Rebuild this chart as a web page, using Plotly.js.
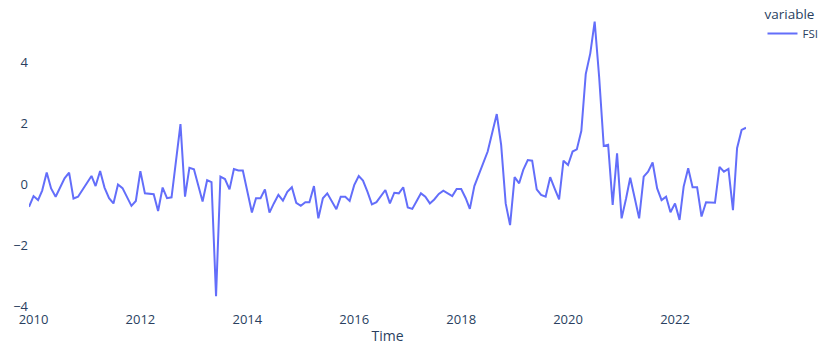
<!DOCTYPE html>
<html>
<head>
<meta charset="utf-8">
<script src="https://cdn.plot.ly/plotly-3.0.1.min.js"></script>
<style>html,body{margin:0;padding:0;background:#fff;}#chart{width:818px;height:345px;}</style>
</head>
<body>
<div id="chart"></div>
<script>
// Monthly series, first month and count
const startYear = 2009;
const startMonth = 12;
const seriesName = "FSI";
const fsiValues = [
  -0.73, -0.38, -0.51, -0.20, 0.39, -0.13, -0.40, -0.09, 0.20, 0.39,
  -0.46, -0.40, -0.18, 0.06, 0.28, -0.05, 0.44, -0.10, -0.45, -0.62,
  0.00, -0.12, -0.42, -0.70, -0.54, 0.44, -0.29, -0.31, -0.32, -0.87,
  -0.10, -0.45, -0.42, 0.80, 1.98, -0.40, 0.55, 0.50, -0.05, -0.56,
  0.14, 0.08, -3.66, 0.26, 0.18, -0.16, 0.51, 0.46, 0.46, -0.23,
  -0.92, -0.45, -0.45, -0.16, -0.92, -0.62, -0.34, -0.53, -0.24, -0.09,
  -0.60, -0.70, -0.58, -0.58, -0.05, -1.11, -0.45, -0.29, -0.56, -0.81,
  -0.40, -0.40, -0.54, -0.02, 0.28, 0.13, -0.24, -0.65, -0.58, -0.40,
  -0.18, -0.62, -0.27, -0.29, -0.09, -0.75, -0.80, -0.56, -0.29, -0.40,
  -0.62, -0.49, -0.31, -0.20, -0.29, -0.38, -0.15, -0.15, -0.45, -0.80,
  -0.05, 0.33, 0.70, 1.08, 1.70, 2.31, 1.30, -0.62, -1.33, 0.24,
  0.04, 0.48, 0.80, 0.78, -0.16, -0.34, -0.40, 0.24, -0.13, -0.49,
  0.78, 0.64, 1.08, 1.15, 1.76, 3.62, 4.30, 5.34, 3.50, 1.26,
  1.30, -0.67, 1.02, -1.11, -0.45, 0.22, -0.45, -1.11, 0.26, 0.42,
  0.72, -0.13, -0.51, -0.40, -0.91, -0.62, -1.16, -0.07, 0.53, -0.09,
  -0.09, -1.05, -0.58, -0.58, -0.60, 0.58, 0.42, 0.51, -0.84, 1.19,
  1.79, 1.86
];
const yTickVals = [-4, -2, 0, 2, 4];
const xTickLabels = ["2010", "2012", "2014", "2016", "2018", "2020", "2022"];

// Build monthly date labels
const dates = [];
for (let k = 0; k < fsiValues.length; k++) {
  const m0 = (startMonth - 1) + k;
  const y = startYear + Math.floor(m0 / 12);
  const m = (m0 % 12) + 1;
  dates.push(y + "-" + (m < 10 ? "0" + m : m) + "-01");
}
const xTickVals = xTickLabels.map(s => s + "-01-01");

const trace = {
  x: dates,
  y: fsiValues,
  type: "scatter",
  mode: "lines",
  name: seriesName,
  line: {color: "#636efa", width: 2}
};

const layout = {
  width: 818,
  height: 345,
  paper_bgcolor: "#ffffff",
  plot_bgcolor: "#ffffff",
  font: {family: "Open Sans, sans-serif", size: 13, color: "#2a3f5f"},
  margin: {l: 29, r: 72, t: 8, b: 35, autoexpand: false},
  showlegend: true,
  legend: {
    title: {text: "variable", font: {size: 13.5}},
    x: 1.023, xanchor: "left", y: 1.022, yanchor: "top",
    font: {size: 11.5},
    bgcolor: "rgba(0,0,0,0)"
  },
  xaxis: {
    type: "date",
    automargin: true,
    title: {text: "Time", font: {size: 14}, standoff: 13},
    tickvals: xTickVals,
    ticktext: xTickLabels,
    showgrid: false, zeroline: false, showline: false, ticks: ""
  },
  yaxis: {
    range: [-4.115, 5.787],
    tickvals: yTickVals,
    showgrid: false, zeroline: false, showline: false, ticks: ""
  }
};

Plotly.newPlot("chart", [trace], layout, {displayModeBar: false, staticPlot: true});
</script>
</body>
</html>
